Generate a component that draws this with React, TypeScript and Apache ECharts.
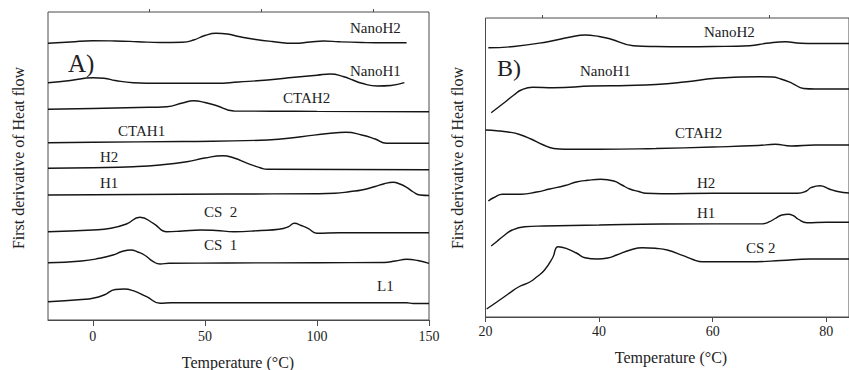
import React, { useEffect, useRef } from "react";
import * as echarts from "echarts";

// Panel A (temperature °C, relative first derivative of heat flow, stacked offsets)
const aNanoH2: [number, number][] = [[-20,276.7],[-10,278],[0,279.3],[10,279],[20,278.3],[30,277.5],[40,277.8],[45,280],[50,284.5],[55,286.7],[60,286],[65,283.5],[72,280.7],[80,278.5],[90,276.7],[97,278],[103,279],[110,278.2],[120,277.5],[130,277.2],[140,277.3]];
const aNanoH1: [number, number][] = [[-20,237.3],[-10,239.5],[0,242.2],[5,241.8],[10,239.5],[18,237.3],[30,236.7],[55,236.7],[65,238],[78,240],[90,242.7],[100,244.8],[106,246],[112,243.3],[116,240],[120,236.7],[127,234],[133,234.5],[139,237.3]];
const aCTAH2: [number, number][] = [[-20,210.7],[0,211.5],[20,212.5],[33,213.3],[40,217],[45,219.3],[50,217.5],[55,214.5],[63,209],[80,208.8],[100,208.6],[150,208.3]];
const aCTAH1: [number, number][] = [[-20,177.3],[0,177.8],[40,178.5],[78,180],[93,183.3],[105,186.5],[113,187.7],[120,185],[126,181],[131,176.7],[150,176.7]];
const aH2: [number, number][] = [[-20,151.7],[0,152.3],[18,153.3],[30,155],[42,158.3],[50,162],[58,164.3],[63,162],[69,156.7],[75,152],[78,150.7],[150,150.3]];
const aH1: [number, number][] = [[-20,125],[20,125.5],[60,126],[100,126.2],[108,126.7],[115,128.5],[120,130],[126,133.5],[130,136.3],[134,137.7],[137,136],[140,132.7],[143,128],[146,125],[150,124.5]];
const aCS2: [number, number][] = [[-20,88.3],[0,90],[8,91.7],[15,96],[21,102.7],[27,96.7],[33,88.3],[40,89],[48,90],[55,89.5],[63,88.3],[75,89.5],[83,90.7],[87,93],[90,96.7],[93,94.5],[96,91.7],[100,86.7],[110,87.2],[150,87.3]];
const aCS1: [number, number][] = [[-20,57.3],[-5,59],[3,61.7],[9,65],[13,68.5],[17,70],[20,68],[23,65],[27,58.3],[30,56],[34,56.7],[60,57],[100,57.3],[130,57.5],[135,59],[140,60.7],[145,59.5],[150,56.7]];
const aL1: [number, number][] = [[-20,18.3],[-5,20.5],[0,21.7],[5,25],[10,30.5],[14,31],[18,29.3],[24,23.3],[30,16.7],[35,17.2],[140,17.3],[143,16.5],[150,16.5]];

// Panel B
const bNanoH2: [number, number][] = [[20.5,269.3],[25,270.5],[31,275.3],[35,280],[37.5,282],[40,280.5],[42,278],[46,271.3],[50,270.5],[55,270.3],[60,270.5],[66.5,271.3],[69.5,273.7],[72.8,275.3],[75.5,273.7],[78,273.5],[84,273.5]];
const bNanoH1: [number, number][] = [[21,204.3],[23,213],[25,222],[26.3,227],[28.3,229.7],[32,229.3],[38.8,231],[45,231.5],[50,232.5],[55,235],[60.5,238.7],[65,240],[68.3,240.3],[70.5,240],[72,238],[74,233.7],[76,228.5],[78,228],[84,228]];
const bCTAH2: [number, number][] = [[20,187],[22,186.3],[24,185],[26,182.5],[28,178],[30,172.5],[32,168.5],[34,167.7],[40,167.7],[50,168.5],[60,170],[68,171.5],[71,172.7],[73.8,171],[78,172],[84,172]];
const bH2: [number, number][] = [[20.5,116],[21.5,119.5],[23,122.7],[26.3,122.7],[29,125],[31.3,128],[34,131.5],[36,135],[38,136.7],[40.3,137.7],[42.6,136],[44,132],[45.4,128],[47,125.5],[48.2,123.7],[51,123.3],[60,123.7],[75,123.7],[76.5,126],[77.3,129.3],[78.9,131.3],[80.5,128],[82,125.5],[84,124]];
const bH1: [number, number][] = [[21,71],[22,75.5],[23,80.3],[24.7,87],[26.9,90.3],[30.3,91],[40,92],[51,93],[68.9,93.3],[70,95.3],[71,98.5],[72.2,102],[73.3,102.7],[74.3,101],[75,98],[76.6,94.3],[80,94.7],[84,94.7]];
const bCS2: [number, number][] = [[20.2,8],[22,15],[24,23],[25.8,30],[27.8,35],[29,40],[30.4,47],[31.8,59],[32.8,70.3],[34.2,68.7],[36,64],[37.5,59.3],[39.7,58],[41.5,59],[43.1,62],[45.5,67],[47.6,69.3],[49.9,68.7],[52,67],[54.8,61.3],[56.5,57.5],[58.2,55.3],[62,55.3],[67.7,55.3],[72,56.5],[77.2,58],[84,58]];

const aMajorTicks = [0, 50, 100, 150];
const aMinorTicks = [25, 75, 125];
const bMajorTicks = [20, 40, 60, 80];
const bMinorTicks = [30, 50, 70];

const FONT = "Liberation Serif, Times New Roman, serif";
const LINE = "#151515";
const TXT = "#222";
const BORDER = "#4a4a4a";

function txt(text: string, x: number, y: number, size = 15, align = "left", rotation = 0) {
  return {
    type: "text",
    x,
    y,
    rotation,
    silent: true,
    style: {
      text,
      fill: TXT,
      fontSize: size,
      fontFamily: FONT,
      align,
      verticalAlign: "middle",
      textAlign: align,
      textVerticalAlign: "middle",
    },
  };
}

export default function App() {
  const ref = useRef<HTMLDivElement>(null);
  useEffect(() => {
    if (!ref.current) return;
    const chart = echarts.init(ref.current, undefined, { renderer: "svg" });
    const mkLine = (data: [number, number][], xi: number, yi: number) => ({
      type: "line",
      data,
      xAxisIndex: xi,
      yAxisIndex: yi,
      showSymbol: false,
      smooth: 0.5,
      lineStyle: { color: LINE, width: 1.4 },
      silent: true,
    });
    const baseX = (grid: number, min: number, max: number, labels: number[], ticks: number[], tlen: number, margin: number, show: boolean) => ({
      type: "value",
      gridIndex: grid,
      min,
      max,
      axisLine: { show, lineStyle: { color: BORDER, width: 1 } },
      splitLine: { show: false },
      axisTick: { show: true, customValues: ticks, length: tlen, inside: false, lineStyle: { color: BORDER, width: 1 } },
      axisLabel: show
        ? { show: true, customValues: labels, margin, fontSize: 14, fontFamily: FONT, color: TXT }
        : { show: false },
    });
    chart.setOption({
      animation: false,
      backgroundColor: "#fff",
      grid: [
        { left: 48, top: 12, width: 381, height: 308, show: true, borderColor: BORDER, borderWidth: 1 },
        { left: 485.5, top: 18, width: 381.5, height: 299, show: true, borderColor: BORDER, borderWidth: 1 },
      ],
      xAxis: [
        baseX(0, -20, 150, aMajorTicks, aMajorTicks, 6, 9, true),
        baseX(0, -20, 150, [], aMinorTicks, 3, 9, false),
        baseX(1, 20, 84, bMajorTicks, bMajorTicks, 5, 7, true),
        baseX(1, 20, 84, [], bMinorTicks, 3, 7, false),
      ],
      yAxis: [
        { type: "value", gridIndex: 0, min: 0, max: 308, show: false },
        { type: "value", gridIndex: 1, min: 0, max: 299, show: false },
      ],
      series: [
        mkLine(aNanoH2, 0, 0),
        mkLine(aNanoH1, 0, 0),
        mkLine(aCTAH2, 0, 0),
        mkLine(aCTAH1, 0, 0),
        mkLine(aH2, 0, 0),
        mkLine(aH1, 0, 0),
        mkLine(aCS2, 0, 0),
        mkLine(aCS1, 0, 0),
        mkLine(aL1, 0, 0),
        mkLine(bNanoH2, 2, 1),
        mkLine(bNanoH1, 2, 1),
        mkLine(bCTAH2, 2, 1),
        mkLine(bH2, 2, 1),
        mkLine(bH1, 2, 1),
        mkLine(bCS2, 2, 1),
      ],
      graphic: [
        txt("NanoH2", 350, 28),
        txt("A)", 68, 63, 25),
        txt("NanoH1", 350, 71),
        txt("CTAH2", 283, 98),
        txt("CTAH1", 118, 131),
        txt("H2", 100, 157),
        txt("H1", 100, 183),
        txt("CS  2", 204, 212),
        txt("CS  1", 204, 245),
        txt("L1", 377, 286),
        txt("NanoH2", 704, 32),
        txt("B)", 497, 68, 24),
        txt("NanoH1", 580, 71),
        txt("CTAH2", 675, 133),
        txt("H2", 697, 183),
        txt("H1", 697, 213),
        txt("CS 2", 746, 248),
        txt("Temperature (°C)", 238, 362, 16, "center"),
        txt("Temperature (°C)", 671, 357, 16, "center"),
        txt("First derivative of Heat flow", 18, 158, 16, "center", Math.PI / 2),
        txt("First derivative of Heat flow", 457, 158, 16, "center", Math.PI / 2),
      ],
    });
    return () => chart.dispose();
  }, []);
  return (
    <div
      ref={ref}
      style={{ position: "fixed", left: 0, top: 0, width: 849, height: 370, background: "#fff" }}
    />
  );
}
